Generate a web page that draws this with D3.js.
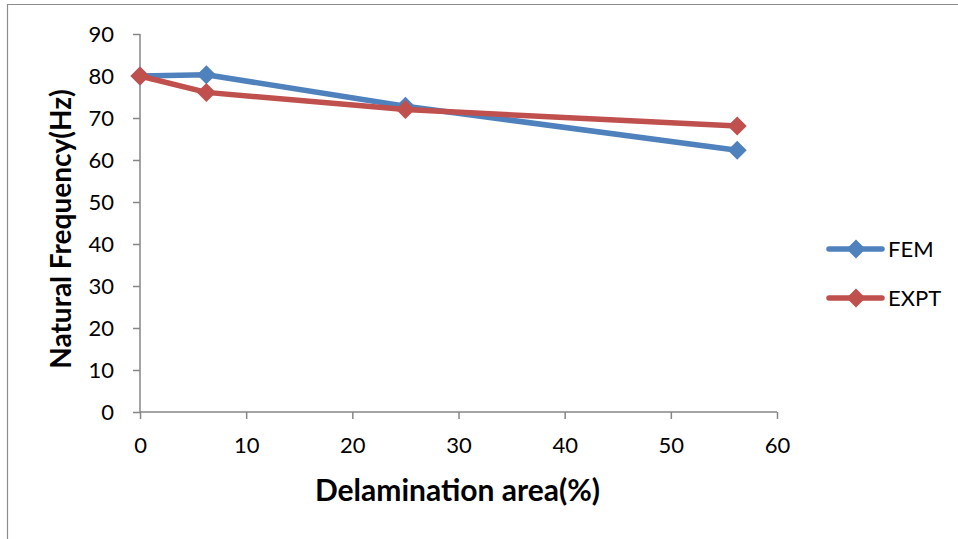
<!DOCTYPE html>
<html>
<head>
<meta charset="utf-8">
<script src="https://cdn.jsdelivr.net/npm/d3@7"></script>
<style>
  body { margin: 0; background: #fff; }
  svg { display: block; font-family: Lato, "Open Sans", sans-serif; }
</style>
</head>
<body>
<div id="container"></div>
<script>
(function(){
  "use strict";
  var delamination = [0, 6.25, 25, 56.25];
  var fem = [80, 80.3, 72.8, 62.3];
  var expt = [80, 76.1, 72, 68.1];
  var series_names = ["FEM", "EXPT"];
  var series_colors = ["#4F81BD", "#C0504D"];
  var x_ticks = [0, 10, 20, 30, 40, 50, 60];
  var y_ticks = [0, 10, 20, 30, 40, 50, 60, 70, 80, 90];

  var width = 958, height = 539;
  var margin = { top: 34, left: 140, right: 181, bottom: 127 };

  var svg = d3.select("#container").append("svg")
      .attr("width", width)
      .attr("height", height);

  // outer chart border (right and bottom run off the picture)
  svg.append("path")
      .attr("d", "M7.5,540 V4.5 H960")
      .attr("fill", "none")
      .attr("stroke", "#8c8c8c")
      .attr("stroke-width", 1.2);

  var xScale = d3.scaleLinear().domain([0, 60]).range([margin.left, width - margin.right]);
  var yScale = d3.scaleLinear().domain([0, 90]).range([height - margin.bottom, margin.top]);

  var xAxis = d3.axisBottom(xScale).tickValues(x_ticks).tickSize(7).tickPadding(18);
  var yAxis = d3.axisLeft(yScale).tickValues(y_ticks).tickSize(7).tickPadding(19);

  var xg = svg.append("g")
      .attr("transform", "translate(0," + yScale(0) + ")")
      .call(xAxis);
  var yg = svg.append("g")
      .attr("transform", "translate(" + xScale(0) + ",0)")
      .call(yAxis);

  [xg, yg].forEach(function(g){
    g.select(".domain").attr("stroke", "#868686").attr("stroke-width", 1.5);
    g.selectAll(".tick line").attr("stroke", "#868686").attr("stroke-width", 1.5);
    g.selectAll(".tick text")
        .attr("fill", "#000")
        .style("font-size", "22px")
        .style("font-family", "Lato, 'Open Sans', sans-serif");
  });
  xg.select(".domain").attr("d", "M" + xScale(0) + ",0H" + xScale(60));
  yg.select(".domain").attr("d", "M0," + yScale(0) + "V" + yScale(90));

  // axis titles
  svg.append("text")
      .attr("x", (xScale(0) + xScale(60)) / 2 - 1)
      .attr("y", 501)
      .attr("text-anchor", "middle")
      .style("font-size", "30px")
      .style("font-weight", "bold")
      .text("Delamination area(%)");

  svg.append("text")
      .attr("transform", "translate(71," + 229 + ") rotate(-90)")
      .attr("text-anchor", "middle")
      .style("font-size", "28px")
      .style("font-weight", "bold")
      .text("Natural Frequency(Hz)");

  var line = d3.line()
      .x(function(d){ return xScale(d[0]); })
      .y(function(d){ return yScale(d[1]); });

  var diamond = d3.symbol().type(d3.symbolDiamond2).size(230);

  [fem, expt].forEach(function(vals, i){
    var pts = delamination.map(function(x, j){ return [x, vals[j]]; });
    svg.append("path")
        .datum(pts)
        .attr("d", line)
        .attr("fill", "none")
        .attr("stroke", series_colors[i])
        .attr("stroke-width", 5.5)
        .attr("stroke-linejoin", "round");
    svg.selectAll(".pt" + i)
        .data(pts)
        .enter().append("path")
        .attr("class", "pt" + i)
        .attr("transform", function(d){ return "translate(" + xScale(d[0]) + "," + yScale(d[1]) + ")"; })
        .attr("d", diamond)
        .attr("fill", series_colors[i]);
  });

  // legend
  var legend = svg.append("g");
  series_names.forEach(function(name, i){
    var ly = 249 + i * 49;
    legend.append("line")
        .attr("x1", 829).attr("x2", 882)
        .attr("y1", ly).attr("y2", ly)
        .attr("stroke", series_colors[i])
        .attr("stroke-width", 5.5)
        .attr("stroke-linecap", "round");
    legend.append("path")
        .attr("transform", "translate(856," + ly + ")")
        .attr("d", diamond)
        .attr("fill", series_colors[i]);
    legend.append("text")
        .attr("x", 888)
        .attr("y", ly)
        .attr("dy", "0.35em")
        .style("font-size", "22px")
        .text(name);
  });
})();
</script>
</body>
</html>
